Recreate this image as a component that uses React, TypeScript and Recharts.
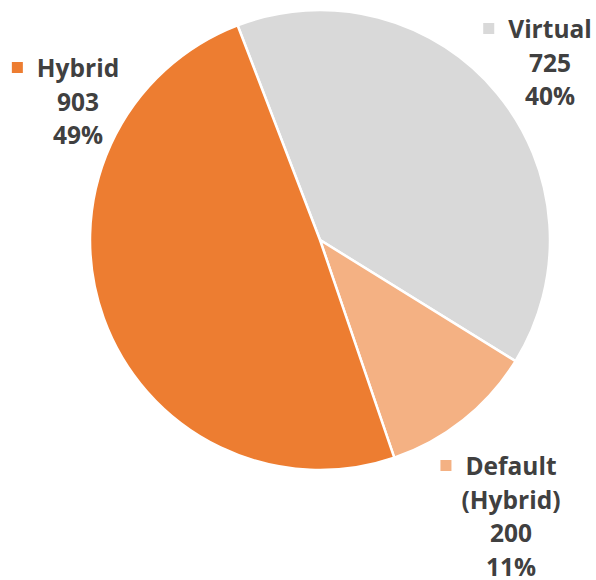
import React from 'react';
import { PieChart, Pie, Cell } from 'recharts';

const categories = ['Virtual', 'Default (Hybrid)', 'Hybrid'];
const values = [725, 200, 903];
const percentLabels = ['40%', '11%', '49%'];
const colors = ['#D9D9D9', '#F4B183', '#ED7D31'];

// label line groups: first line carries the legend marker
const labelLines = [
  ['Virtual', '725', '40%'],
  ['Default', '(Hybrid)', '200', '11%'],
  ['Hybrid', '903', '49%'],
];
// label anchor (center x, first baseline y) relative to pie center
const labelAnchors = [
  { dx: 230, dy: -202 },
  { dx: 191, dy: 235 },
  { dx: -242, dy: -163 },
];

const data = categories.map((name, i) => ({ name, value: values[i] }));

const FONT = '"Open Sans", sans-serif';
const FS = 24.5;
const LH = 33.5;

let ctx: CanvasRenderingContext2D | null = null;
function measure(t: string) {
  if (!ctx) {
    const c = document.createElement('canvas');
    ctx = c.getContext('2d');
  }
  if (!ctx) return t.length * FS * 0.6;
  ctx.font = `700 ${FS}px "Open Sans"`;
  return ctx.measureText(t).width;
}

const renderLabel = (props: any) => {
  const { cx, cy, index } = props;
  const a = labelAnchors[index];
  const x = cx + a.dx;
  const y = cy + a.dy;
  const lines = labelLines[index];
  const w = measure(lines[0]);
  return (
    <g key={`lbl-${index}`}>
      <rect x={x - w / 2 - 25} y={y - 15} width={11} height={11} fill={colors[index]} />
      {lines.map((l, j) => (
        <text
          key={j}
          x={x}
          y={y + j * LH}
          textAnchor="middle"
          fill="#404040"
          fontFamily={FONT}
          fontWeight={700}
          fontSize={FS}
        >
          {l}
        </text>
      ))}
    </g>
  );
};

export default function App() {
  return (
    <div style={{ position: 'absolute', left: 0, top: 0, background: '#fff' }}>
      <PieChart width={596} height={580} margin={{ top: 0, right: 0, bottom: 0, left: 0 }}>
        <Pie
          data={data}
          dataKey="value"
          nameKey="name"
          cx={320}
          cy={240}
          outerRadius={230}
          startAngle={111}
          endAngle={-249}
          stroke="#ffffff"
          strokeWidth={2.5}
          label={renderLabel}
          labelLine={false}
          isAnimationActive={false}
        >
          {data.map((d, i) => (
            <Cell key={d.name} fill={colors[i]} />
          ))}
        </Pie>
      </PieChart>
    </div>
  );
}
